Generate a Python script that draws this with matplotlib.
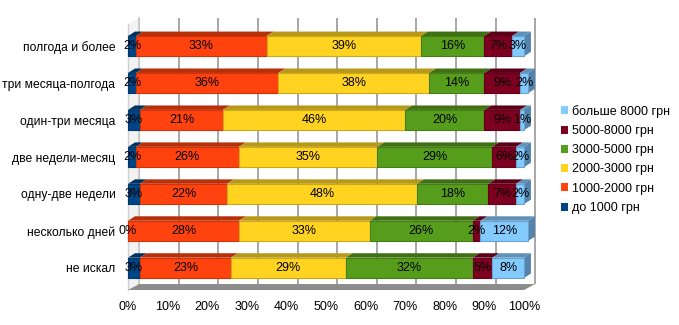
import matplotlib
matplotlib.use("Agg")
import matplotlib.pyplot as plt
import matplotlib.transforms as mtransforms
from matplotlib.patches import Polygon
from matplotlib.colors import to_rgb
import numpy as np

plt.rcParams["font.family"] = ["Liberation Sans", "DejaVu Sans"]

categories = ["не искал", "несколько дней", "одну-две недели", "две недели-месяц",
              "один-три месяца", "три месяца-полгода", "полгода и более"]
series = ["до 1000 грн", "1000-2000 грн", "2000-3000 грн",
          "3000-5000 грн", "5000-8000 грн", "больше 8000 грн"]
do_1000 = [3, 0, 3, 2, 3, 2, 2]
r1000_2000 = [23, 28, 22, 26, 21, 36, 33]
r2000_3000 = [29, 33, 48, 35, 46, 38, 39]
r3000_5000 = [32, 26, 18, 29, 20, 14, 16]
r5000_8000 = [5, 2, 7, 6, 9, 9, 7]
over_8000 = [8, 12, 2, 2, 1, 2, 3]
colors = ["#004586", "#ff420e", "#ffd320", "#579d1c", "#7e0021", "#83caff"]
ticks = np.arange(0, 101, 10)

values = np.array([do_1000, r1000_2000, r2000_3000, r3000_5000, r5000_8000, over_8000])

fs = 9
fig = plt.figure(figsize=(6.79, 3.25), dpi=100)
ax = fig.add_axes([128 / 679, 1 - 290 / 325, 396 / 679, 266 / 325])
ax.set_xlim(0, 100)
ax.set_ylim(-0.6, 6.6)
for s in ax.spines.values():
    s.set_visible(False)

# fake 3d: bar depth and back wall offset, in points
bdx, bdy = 5.0, 3.2
wdx, wdy = 8.0, 4.3
back = mtransforms.offset_copy(ax.transData, fig=fig, x=wdx, y=wdy, units="points")


def shade(c, f):
    return tuple(np.array(to_rgb(c)) * f)


def depth_poly(x0, y0, x1, y1, color, zorder, ddx, ddy):
    # front edge (x0,y0)-(x1,y1) in data coords, extruded backwards
    p0 = ax.transData.transform([(x0, y0), (x1, y1)])
    off = np.array([ddx, ddy]) * fig.dpi / 72
    pts = np.vstack([p0, p0[::-1] + off])
    pts = ax.transData.inverted().transform(pts)
    ax.add_patch(Polygon(pts, closed=True, facecolor=color, edgecolor="none",
                         zorder=zorder, clip_on=False))


# back wall grid, floor and left wall
ax.vlines(ticks, -0.6, 6.6, colors="#a0a0a0", lw=1.3, transform=back, zorder=0, clip_on=False)
depth_poly(0, -0.6, 0, 6.6, "#f2f2f2", 0.1, wdx, wdy)
ax.plot([0, 0], [-0.6, 6.6], color="#c8c8c8", lw=1.2, transform=back, zorder=0.2, clip_on=False)
depth_poly(0, -0.6, 100, -0.6, "#8c8c8c", 0.5, wdx, wdy)
ax.plot([0, 0], [-0.6, 6.6], color="#d0d0d0", lw=1.0, zorder=0.3, clip_on=False)

h = 0.55
y = np.arange(len(categories))
left = np.zeros(len(categories))
for i, (name, vals, c) in enumerate(zip(series, values, colors)):
    bars = ax.barh(y, vals, left=left, height=h, color=c, edgecolor=shade(c, 0.8),
                   lw=0.8, label=name, zorder=2)
    for b in bars:
        b.set_clip_on(False)
    for k in range(len(categories)):
        depth_poly(left[k], y[k] + h / 2, left[k] + vals[k], y[k] + h / 2,
                   shade(c, 0.72), 1.5, bdx, bdy)
        if i == len(series) - 1:
            depth_poly(left[k] + vals[k], y[k] - h / 2, left[k] + vals[k], y[k] + h / 2,
                       "#5284ad", 1.6, bdx, bdy)
        ax.text(left[k] + vals[k] / 2, y[k], f"{vals[k]}%", ha="center", va="center",
                fontsize=fs, color="#000000", zorder=3)
    left += vals

ax.set_yticks(y)
ax.set_yticklabels(categories, fontsize=8.7)
ax.set_xticks(ticks)
ax.set_xticklabels([f"{t}%" for t in ticks], fontsize=fs)
ax.tick_params(length=0, axis="y", pad=9)
ax.tick_params(length=0, axis="x", pad=8)

handles, labels = ax.get_legend_handles_labels()
leg = fig.legend(handles[::-1], labels[::-1], loc="upper left",
                 bbox_to_anchor=(552 / 679, 1 - 96 / 325), frameon=False,
                 fontsize=fs, handlelength=0.6, handleheight=0.6,
                 handletextpad=0.3, labelspacing=0.58, borderpad=0.2)
for p in leg.get_patches():
    p.set_edgecolor("none")

fig.savefig("out.png", dpi=100)
